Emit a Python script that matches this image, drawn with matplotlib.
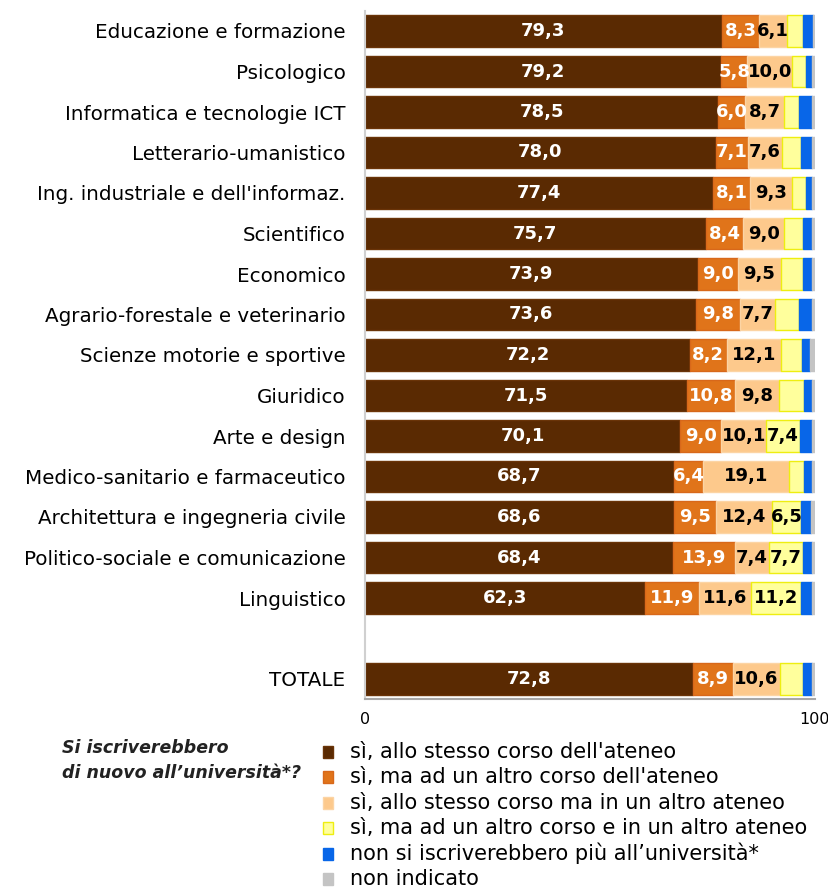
import numpy as np
import matplotlib
matplotlib.use("Agg")
import matplotlib.pyplot as plt
from matplotlib.patches import Rectangle

categories = [
    "Educazione e formazione", "Psicologico", "Informatica e tecnologie ICT",
    "Letterario-umanistico", "Ing. industriale e dell'informaz.", "Scientifico",
    "Economico", "Agrario-forestale e veterinario", "Scienze motorie e sportive",
    "Giuridico", "Arte e design", "Medico-sanitario e farmaceutico",
    "Architettura e ingegneria civile", "Politico-sociale e comunicazione",
    "Linguistico", "TOTALE",
]
stesso_corso = [79.3, 79.2, 78.5, 78.0, 77.4, 75.7, 73.9, 73.6, 72.2, 71.5, 70.1, 68.7, 68.6, 68.4, 62.3, 72.8]
altro_corso = [8.3, 5.8, 6.0, 7.1, 8.1, 8.4, 9.0, 9.8, 8.2, 10.8, 9.0, 6.4, 9.5, 13.9, 11.9, 8.9]
altro_ateneo = [6.1, 10.0, 8.7, 7.6, 9.3, 9.0, 9.5, 7.7, 12.1, 9.8, 10.1, 19.1, 12.4, 7.4, 11.6, 10.6]
altro_corso_ateneo = [3.7, 2.9, 3.3, 4.3, 3.1, 4.2, 5.0, 5.3, 4.7, 5.5, 7.4, 3.3, 6.5, 7.7, 11.2, 5.0]
non_iscriverebbero = [2.1, 1.5, 2.9, 2.3, 1.5, 2.0, 2.0, 2.9, 1.8, 1.7, 2.7, 1.8, 2.1, 1.9, 2.4, 2.1]
non_indicato = [0.5, 0.6, 0.6, 0.7, 0.6, 0.7, 0.6, 0.7, 1.0, 0.7, 0.7, 0.7, 0.9, 0.7, 0.6, 0.6]

legend_labels = [
    "sì, allo stesso corso dell'ateneo",
    "sì, ma ad un altro corso dell'ateneo",
    "sì, allo stesso corso ma in un altro ateneo",
    "sì, ma ad un altro corso e in un altro ateneo",
    "non si iscriverebbero più all’università*",
    "non indicato",
]
series = [stesso_corso, altro_corso, altro_ateneo, altro_corso_ateneo, non_iscriverebbero, non_indicato]
face = ["#5a2a02", "#e0741a", "#fdc98c", "#ffff9c", "#0866e8", "#c4c4c4"]
edge = ["#6a3408", "#d8681a", "#fcd4a4", "#eeee10", "#0866e8", "#c4c4c4"]
txt_col = ["white", "white", "black", "black", "white", "black"]

ypos = list(range(15)) + [16]

fig = plt.figure(figsize=(8.29, 8.90), dpi=100)
ax = fig.add_axes([365 / 829, 1 - 699.25 / 890, 450 / 829, 688.5 / 890])

left = np.zeros(len(categories))
for k, vals in enumerate(series):
    vals = np.array(vals)
    ax.barh(ypos, vals, left=left, height=0.79, color=face[k], edgecolor=edge[k], linewidth=1)
    if k < 4:
        for y, l, v in zip(ypos, left, vals):
            if v >= 5.7:
                ax.text(l + v / 2, y, f"{v:.1f}".replace(".", ","), ha="center", va="center",
                        color=txt_col[k], fontsize=13, fontweight="bold")
    left += vals

ax.set_xlim(0, 100)
ax.set_ylim(16.5, -0.5)
ax.set_yticks(ypos)
ax.set_yticklabels(categories, fontsize=14.3)
ax.set_xticks([0, 100])
ax.set_xticklabels(["0", "100"], fontsize=11.5)
ax.tick_params(length=0)
ax.tick_params(axis="y", pad=14)
ax.tick_params(axis="x", pad=9)
for s in ["top", "right"]:
    ax.spines[s].set_visible(False)
ax.spines["left"].set_color("#d0d0d0")
ax.spines["bottom"].set_color("#a8a8a8")
ax.spines["left"].set_linewidth(1.5)
ax.spines["bottom"].set_linewidth(1.5)

# legend
fig.text(62 / 829, 1 - 748 / 890, "Si iscriverebbero", fontsize=12.5, fontweight="bold",
         style="italic", va="center", ha="left", color="#222222")
fig.text(62 / 829, 1 - 773 / 890, "di nuovo all’università*?", fontsize=12.5, fontweight="bold",
         style="italic", va="center", ha="left", color="#222222")
for i, lab in enumerate(legend_labels):
    yc = 752 + i * 25.4
    fig.patches.append(Rectangle((323 / 829, 1 - (yc + 6) / 890), 10 / 829, 12 / 890,
                                 transform=fig.transFigure, facecolor=face[i],
                                 edgecolor=edge[i], linewidth=1))
    fig.text(350 / 829, 1 - yc / 890, lab, fontsize=15, va="center", ha="left")

fig.savefig("out.png", dpi=100)
